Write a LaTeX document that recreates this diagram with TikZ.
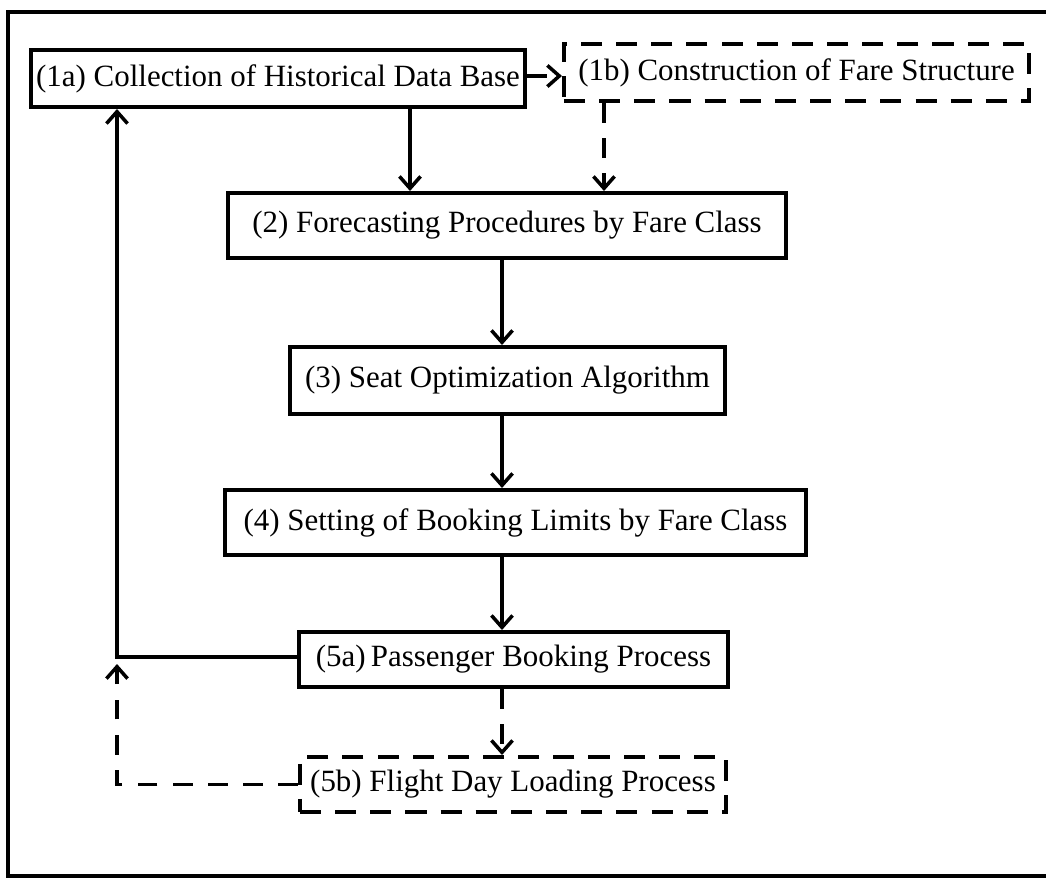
\documentclass[tikz,border=0pt]{standalone}
\usepackage{fontspec}
\setmainfont{Liberation Serif}
\usetikzlibrary{arrows.meta}

\begin{document}
\begin{tikzpicture}[
    x=0.025cm, y=-0.025cm,
    stagebox/.style={draw, line width=2.8pt, inner sep=0pt, align=center,
      font=\fontsize{22pt}{26pt}\selectfont},
    plannedbox/.style={stagebox, dash pattern=on 15pt off 10pt, line width=2.8pt},
    flow/.style={line width=2.5pt, -{Straight Barb[length=8.5pt,width=15pt,line width=2.5pt]}},
    dflow/.style={flow, dash pattern=on 14pt off 11pt, line width=2.8pt},
    frameline/.style={line width=2.4pt}
  ]
  \useasboundingbox (0,0) rectangle (1046,878);

  % outer frame (open on the right)
  \coordinate (ftr) at (1046,12);
  \coordinate (ftl) at (8,12);
  \coordinate (fbl) at (8,876);
  \coordinate (fbr) at (1046,876);
  \draw[frameline] (ftr) -- (ftl) -- (fbl) -- (fbr);

  % process stages
  \node[stagebox, minimum width=12.35cm, minimum height=1.425cm] (s1a) at (278,78.5)
    {(1a) Collection of Historical Data Base};
  \node[plannedbox, minimum width=11.625cm, minimum height=1.425cm] (s1b) at (796.5,72.5)
    {(1b) Construction of Fare Structure};
  \node[stagebox, minimum width=13.95cm, minimum height=1.625cm] (s2) at (507,225.5)
    {(2) Forecasting Procedures by Fare Class};
  \node[stagebox, minimum width=10.875cm, minimum height=1.675cm] (s3) at (507.5,380.5)
    {(3) Seat Optimization Algorithm};
  \node[stagebox, minimum width=14.525cm, minimum height=1.625cm] (s4) at (515.5,522.5)
    {(4) Setting of Booking Limits by Fare Class};
  \node[stagebox, minimum width=10.725cm, minimum height=1.375cm] (s5a) at (513.5,659.5)
    {(5a)\,Passenger Booking Process};
  \node[plannedbox, minimum width=10.65cm, minimum height=1.375cm] (s5b) at (513,784.5)
    {(5b) Flight Day Loading Process};

  % guide coordinates for the connector columns and rows
  \coordinate (colA) at (410,0);
  \coordinate (colB) at (604,0);
  \coordinate (colC) at (502,0);
  \coordinate (colF) at (117,0);
  \coordinate (rowT) at (0,76);
  \coordinate (rowF) at (0,657);
  \coordinate (fbtip) at (117,664);

  % main flow
  \draw[flow] (s1a.south -| colA) -- (s2.north -| colA);
  \draw[dflow] (s1b.south -| colB) -- (s2.north -| colB);
  \draw[dflow] (s1a.east |- rowT) -- (s1b.west |- rowT);
  \draw[flow] (s2.south -| colC) -- (s3.north -| colC);
  \draw[flow] (s3.south -| colC) -- (s4.north -| colC);
  \draw[flow] (s4.south -| colC) -- (s5a.north -| colC);
  \draw[dflow] (s5a.south -| colC) -- (s5b.north -| colC);

  % feedback loops
  \draw[flow] (s5a.west |- rowF) -- (colF |- rowF) -- (s1a.south -| colF);
  \draw[dflow] (s5b.west) -- (s5b.west -| colF) -- (fbtip);
\end{tikzpicture}
\end{document}
